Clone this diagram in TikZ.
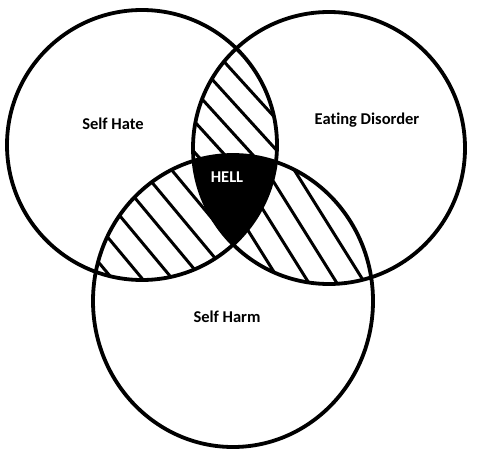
\documentclass[tikz,border=0pt]{standalone}
\usepackage{fontspec}
\setmainfont{Carlito}[Ligatures={NoCommon}]
\begin{document}
\begin{tikzpicture}[x=1pt,y=-1pt,
  outline/.style={line width=3.8pt,draw=black},
  hatchline/.style={line width=3pt,black},
  lbl/.style={font=\bfseries\fontsize{16.5}{18}\selectfont,inner sep=0pt,anchor=center}]
\useasboundingbox[fill=white] (0,0) rectangle (500,468);
\def\circA{(142,145) circle [radius=135]}
\def\circB{(329,148) circle [radius=136]}
\def\circC{(233,301) ellipse [x radius=140, y radius=146]}
% hatching in A∩B
\begin{scope}
  \clip \circA; \clip \circB;
  \foreach \k in {-700,-672,...,520} { \draw[hatchline] (\k,0) -- ++(400,440); }
\end{scope}
% hatching in A∩C
\begin{scope}
  \clip \circA; \clip \circC;
  \foreach \k in {-700,-670,...,520} { \draw[hatchline] (\k+10,0) -- ++(400,480); }
\end{scope}
% hatching in B∩C
\begin{scope}
  \clip \circB; \clip \circC;
  \foreach \k in {-700,-672,...,520} { \draw[hatchline] (\k+20,0) -- ++(350,560); }
\end{scope}
% black triple intersection
\begin{scope}
  \clip \circA; \clip \circB;
  \fill[black] \circC;
\end{scope}
\draw[outline] \circA;
\draw[outline] \circB;
\draw[outline] \circC;
\node[lbl] (sh) at (113,124) {Self Hate};
\node[lbl] (ed) at (367,120) {Eating Disorder};
\node[lbl] (hm) at (227,317) {Self Harm};
\node[lbl,text=white] (hl) at (227,177) {HELL};
\end{tikzpicture}
\end{document}
